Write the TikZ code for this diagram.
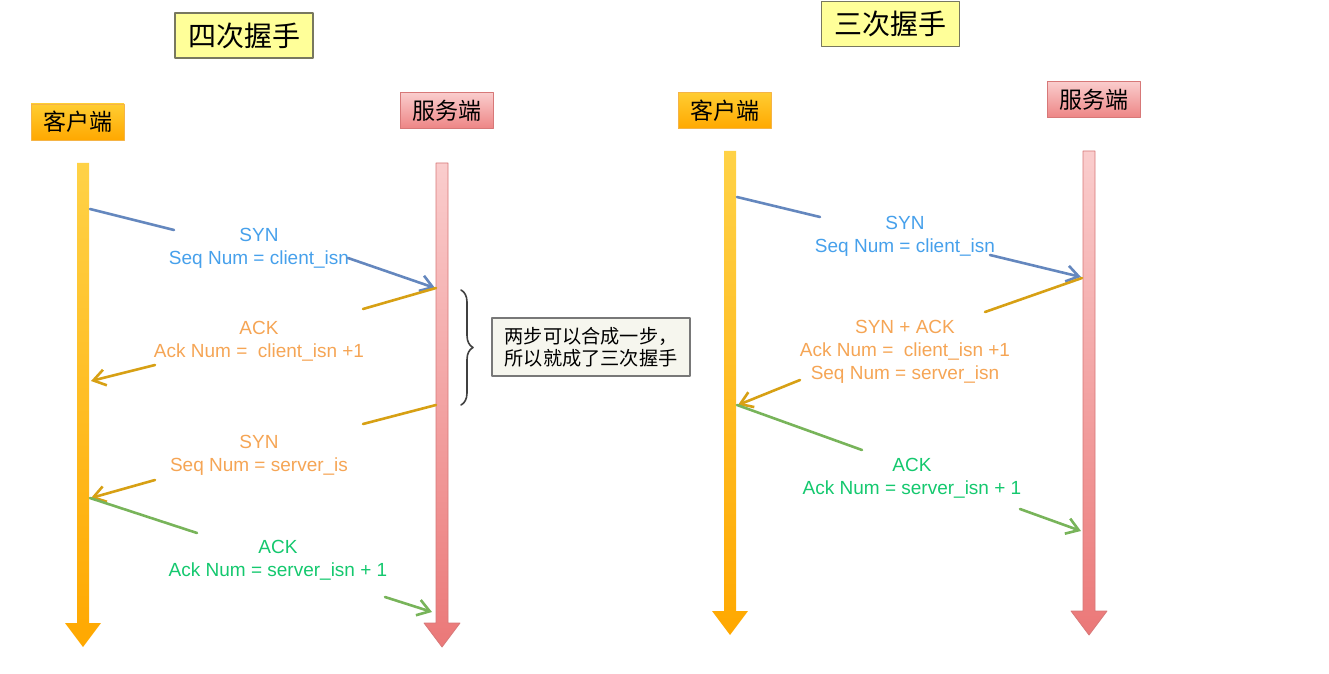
\documentclass[tikz,border=0pt]{standalone}
\usepackage{fontspec}
\setmainfont{Liberation Sans}
\newfontfamily\cjk{Noto Sans CJK SC}
\usetikzlibrary{arrows.meta,decorations.pathreplacing}

\definecolor{titlefill}{RGB}{255,255,153}
\definecolor{titleedge}{RGB}{120,120,95}
\definecolor{clienttop}{RGB}{255,205,50}
\definecolor{clientbot}{RGB}{255,168,0}
\definecolor{clientedge}{RGB}{245,180,70}
\definecolor{servertop}{RGB}{250,205,205}
\definecolor{serverbot}{RGB}{235,120,120}
\definecolor{serveredge}{RGB}{215,120,120}
\definecolor{synblue}{RGB}{70,160,235}
\definecolor{lineblue}{RGB}{100,135,190}
\definecolor{ackorange}{RGB}{245,165,85}
\definecolor{linegold}{RGB}{215,160,20}
\definecolor{ackgreen}{RGB}{20,200,110}
\definecolor{linegreen}{RGB}{120,180,90}
\definecolor{notefill}{RGB}{246,246,238}
\definecolor{noteedge}{RGB}{120,120,120}

\begin{document}
\begin{tikzpicture}[x=0.5pt,y=-0.5pt,line cap=round,line join=round,
    titlebox/.style={draw=titleedge,fill=titlefill,line width=0.7pt,minimum width=69pt,minimum height=22.5pt,inner sep=0pt,font=\cjk\fontsize{14}{14}\selectfont},
    clientbox/.style={draw=clientedge,top color=clienttop,bottom color=clientbot,minimum width=46.5pt,minimum height=18pt,inner sep=0pt,font=\cjk\fontsize{11.5}{11.5}\selectfont},
    serverbox/.style={draw=serveredge,top color=servertop,bottom color=serverbot!85!servertop,minimum width=46.5pt,minimum height=18pt,inner sep=0pt,font=\cjk\fontsize{11.5}{11.5}\selectfont},
    msg/.style={align=center,inner sep=0pt,font=\fontsize{9.5}{11.5}\selectfont},
    msgline/.style={line width=1.3pt},
    msgarrow/.style={msgline,-{Straight Barb[length=6pt,width=8pt,line width=1.3pt]}},
    notebox/.style={draw=noteedge,fill=notefill,line width=0.6pt,minimum width=99pt,minimum height=29pt,inner sep=2pt,align=left,font=\cjk\fontsize{9.6}{11}\selectfont}
  ]
  \useasboundingbox (0,0) rectangle (1329,674);

  % Four-way handshake
  \node[titlebox] (title4) at (244,35.5) {四次握手};
  \node[clientbox] (cli4) at (77.5,122) {客户端};
  \node[serverbox] (srv4) at (446.5,110.5) {服务端};
  \shade[top color=clienttop!90!white,bottom color=clientbot] (77,163) -- (89,163) -- (89,623) -- (101,623) -- (83,647) -- (65,623) -- (77,623) -- cycle;
  \shade[top color=servertop,bottom color=serverbot,draw=serveredge,line width=0.4pt] (436,163) -- (448,163) -- (448,623) -- (460,623) -- (442,647) -- (424,623) -- (436,623) -- cycle;

  \coordinate (c1) at (90,209);
  \coordinate (m1a) at (174,230);
  \coordinate (m1b) at (348,258);
  \coordinate (s1) at (435,288);
  \node[msg,text=synblue] (syn4) at (259,248.5) {SYN\\Seq Num = client\_isn};
  \draw[msgline,lineblue] (c1) -- (m1a);
  \draw[msgarrow,lineblue] (m1b) -- (s1);

  \coordinate (s2) at (436,288);
  \coordinate (m2a) at (363,309);
  \coordinate (m2b) at (155,365);
  \coordinate (c2) at (91,381);
  \node[msg,text=ackorange] (ack4a) at (259,341) {ACK\\Ack Num = \ client\_isn +1};
  \draw[msgline,linegold] (s2) -- (m2a);
  \draw[msgarrow,linegold] (m2b) -- (c2);

  \coordinate (s3) at (436,405);
  \coordinate (m3a) at (363,424);
  \coordinate (m3b) at (155,480);
  \coordinate (c3) at (91,498);
  \node[msg,text=ackorange] (syn4b) at (259,455.5) {SYN\\Seq Num = server\_is};
  \draw[msgline,linegold] (s3) -- (m3a);
  \draw[msgarrow,linegold] (m3b) -- (c3);

  \coordinate (c4) at (90,498);
  \coordinate (m4a) at (197,533);
  \coordinate (m4b) at (385,597);
  \coordinate (s4) at (432,612);
  \node[msg,text=ackgreen] (ack4b) at (278,560) {ACK\\Ack Num = server\_isn + 1};
  \draw[msgline,linegreen] (c4) -- (m4a);
  \draw[msgarrow,linegreen] (m4b) -- (s4);

  % brace and note
  \coordinate (bt) at (461,290);
  \coordinate (bb) at (461,405);
  \draw[black!75,line width=0.8pt,decoration={brace,amplitude=6pt},decorate] (bt) -- (bb);
  \node[notebox] (note) at (591,347) {两步可以合成一步，\\所以就成了三次握手};

  % Three-way handshake
  \node[titlebox] (title3) at (890.5,24) {三次握手};
  \node[clientbox] (cli3) at (724.5,110.5) {客户端};
  \node[serverbox] (srv3) at (1093.5,99.5) {服务端};
  \shade[top color=clienttop!90!white,bottom color=clientbot] (724,151) -- (736,151) -- (736,611) -- (748,611) -- (730,635) -- (712,611) -- (724,611) -- cycle;
  \shade[top color=servertop,bottom color=serverbot,draw=serveredge,line width=0.4pt] (1083,151) -- (1095,151) -- (1095,611) -- (1107,611) -- (1089,635) -- (1071,611) -- (1083,611) -- cycle;

  \coordinate (r1c) at (737,197);
  \coordinate (r1a) at (820,217);
  \coordinate (r1b) at (990,255);
  \coordinate (r1s) at (1081,277);
  \node[msg,text=synblue] (syn3) at (905,236.5) {SYN\\Seq Num = client\_isn};
  \draw[msgline,lineblue] (r1c) -- (r1a);
  \draw[msgarrow,lineblue] (r1b) -- (r1s);

  \coordinate (r2s) at (1082,278);
  \coordinate (r2a) at (985,312);
  \coordinate (r2b) at (800,380);
  \coordinate (r2c) at (738,405);
  \node[msg,text=ackorange] (synack3) at (905,352) {SYN + ACK\\Ack Num = \ client\_isn +1\\Seq Num = server\_isn};
  \draw[msgline,linegold] (r2s) -- (r2a);
  \draw[msgarrow,linegold] (r2b) -- (r2c);

  \coordinate (r3c) at (737,405);
  \coordinate (r3a) at (862,450);
  \coordinate (r3b) at (1020,509);
  \coordinate (r3s) at (1081,531);
  \node[msg,text=ackgreen] (ack3) at (912,478.5) {ACK\\Ack Num = server\_isn + 1};
  \draw[msgline,linegreen] (r3c) -- (r3a);
  \draw[msgarrow,linegreen] (r3b) -- (r3s);
\end{tikzpicture}
\end{document}
